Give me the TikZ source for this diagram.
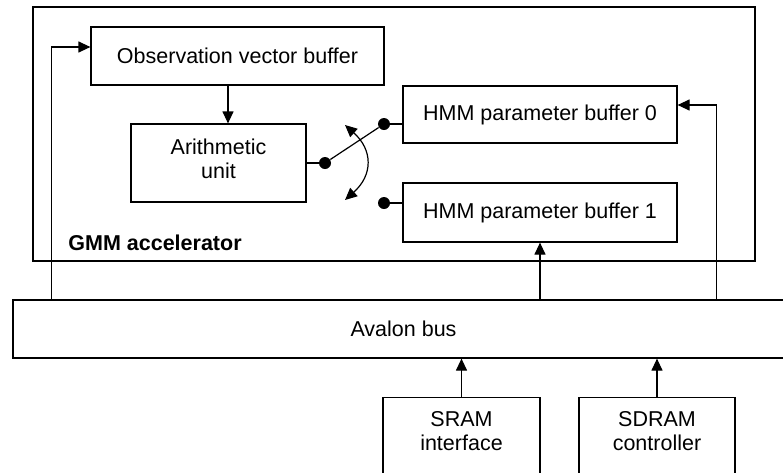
\documentclass[tikz,border=0pt]{standalone}
\usepackage{fontspec}
\setmainfont{Liberation Sans}
\usetikzlibrary{arrows.meta,positioning,calc}

\begin{document}
\begin{tikzpicture}[x=0.5pt, y=-0.5pt,
    every node/.style={font=\fontsize{10.75}{12}\selectfont},
    box/.style={draw, line width=0.6pt, inner sep=0pt, align=center},
    dot/.style={circle, fill=black, inner sep=0pt, minimum size=6pt},
    arr/.style={-{Triangle[length=6pt, width=5.5pt]}, line width=0.6pt},
    swarr/.style={{Triangle[length=6pt, width=5.5pt]}-{Triangle[length=6pt, width=5.5pt]}, line width=0.6pt},
    wire/.style={line width=0.6pt}
]
\clip (0,0) rectangle (783,472);

\node[box, minimum width=361pt, minimum height=127pt] (gmm) at (394,134) {};
\node[anchor=west, inner sep=0pt, font=\fontsize{10.75}{12}\selectfont\bfseries] (gmmlbl) at (68,243) {GMM accelerator};

\node[box, minimum width=146.5pt, minimum height=29pt] (obs) at (237.5,56) {Observation vector buffer};
\node[box, minimum width=87.5pt, minimum height=39pt, text depth=4.5pt] (arith) at (218.5,163) {Arithmetic\\unit};
\node[box, minimum width=137pt, minimum height=28.5pt] (hmm0) at (540,114.5) {HMM parameter buffer 0};
\node[box, minimum width=137pt, minimum height=29.5pt] (hmm1) at (540,212.5) {HMM parameter buffer 1};

\node[box, minimum width=390.5pt, minimum height=29pt] (bus) at (403.5,329) {Avalon bus};

\node[box, anchor=north, minimum width=78.5pt, inner ysep=7pt, text depth=40pt] (sram) at (461.5,397) {SRAM\\interface};
\node[box, anchor=north, minimum width=78pt, inner ysep=7pt, text depth=40pt] (sdram) at (657,397) {SDRAM\\controller};

\node[dot] (pin) at (325,163) {};
\node[dot] (pin0) at (384,124) {};
\node[dot] (pin1) at (384,203) {};
\coordinate (swup) at (345,125);
\coordinate (swdn) at (345,200);

\draw[arr] ([xshift=19.5pt]bus.north west) |- ([yshift=4.5pt]obs.west);
\draw[arr] ([xshift=-4.75pt]obs.south) -- ([xshift=-4.75pt]obs.south |- arith.north);
\draw[arr] ([xshift=19.5pt]hmm0.east |- bus.north) |- ([yshift=4.75pt]hmm0.east);
\draw[arr] (bus.north -| hmm1.south) -- (hmm1.south);
\draw[arr] (sram.north) -- (sram.north |- bus.south);
\draw[arr] (sdram.north) -- (sdram.north |- bus.south);

\draw[wire] (arith.east) -- (pin);
\draw[wire] (pin) -- (pin0);
\draw[wire] (pin0) -- (pin0 -| hmm0.west);
\draw[wire] (pin1) -- (pin1 -| hmm1.west);
\draw[swarr] (swup) .. controls (373,150) and (373,175) .. (swdn);
\end{tikzpicture}
\end{document}
